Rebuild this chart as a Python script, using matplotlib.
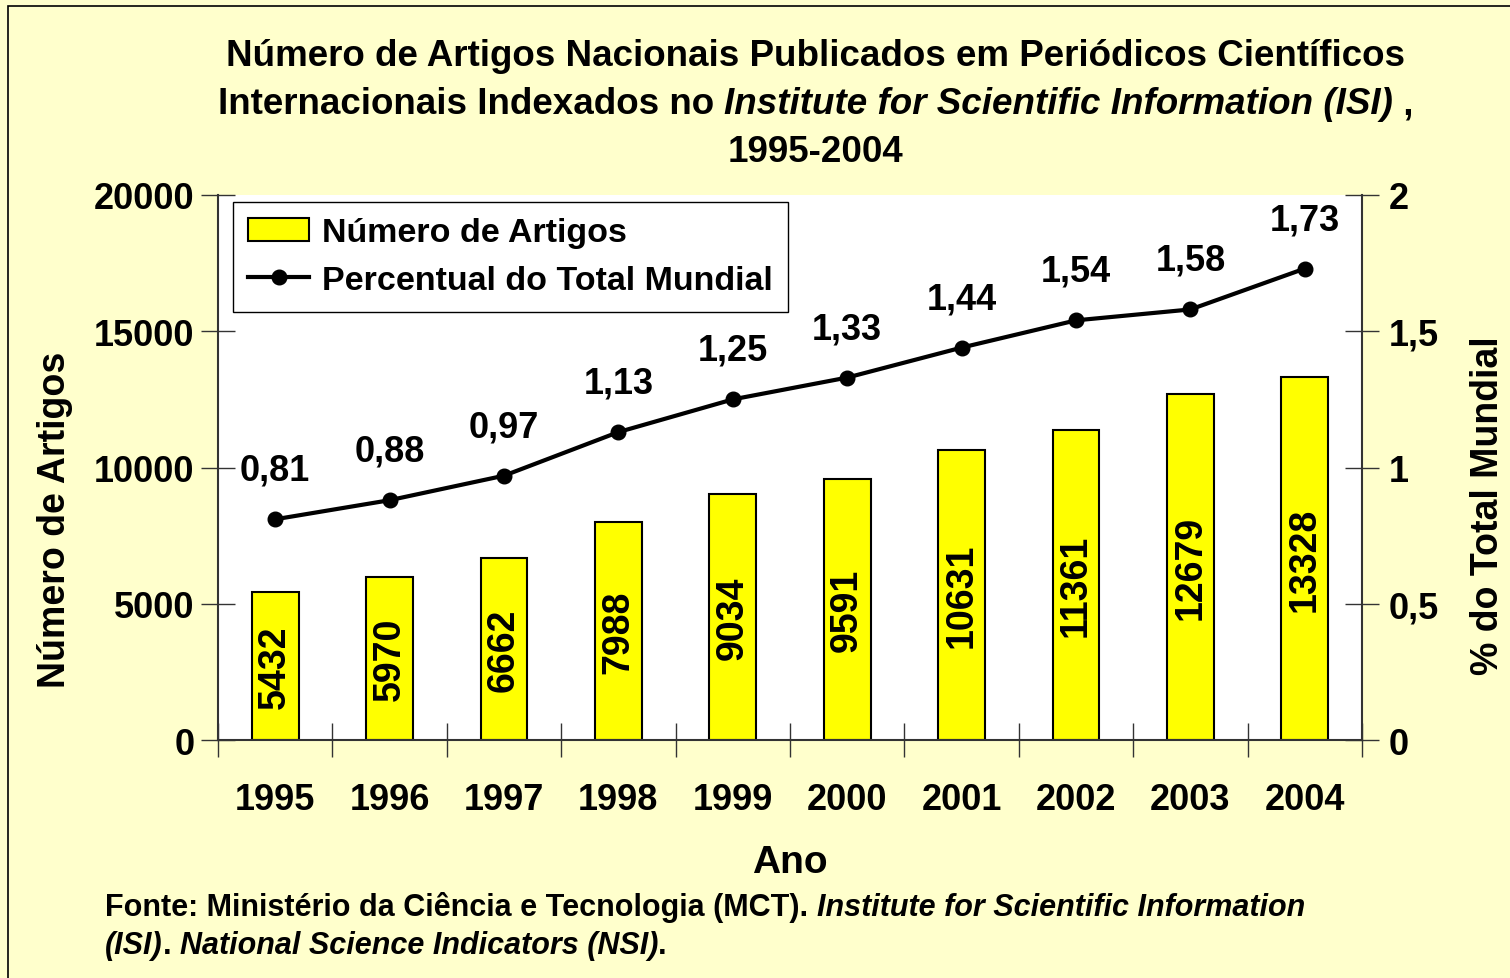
import matplotlib.pyplot as plt
from matplotlib.patches import Rectangle
from matplotlib.ticker import FixedLocator, FuncFormatter

plt.rcParams['font.family'] = ['Liberation Sans', 'DejaVu Sans']
plt.rcParams['font.weight'] = 'bold'

anos = ['1995', '1996', '1997', '1998', '1999', '2000', '2001', '2002', '2003', '2004']
artigos = [5432, 5970, 6662, 7988, 9034, 9591, 10631, 11361, 12679, 13328]
percentual = [0.81, 0.88, 0.97, 1.13, 1.25, 1.33, 1.44, 1.54, 1.58, 1.73]

bg = '#FFFFCC'
fig = plt.figure(figsize=(15.1, 9.79), dpi=100, facecolor=bg)
fig.patches.append(Rectangle((0.005, -0.01), 1.2, 1.003, transform=fig.transFigure,
                             fill=False, edgecolor='black', lw=1.2))

ax = fig.add_axes([0.1444, 0.2431, 0.7576, 0.5567])
ax.set_facecolor('white')
x = range(len(anos))
ax.bar(x, artigos, width=0.41, color='#FFFF00', edgecolor='black', lw=1.5,
       label='Número de Artigos', zorder=2)
for i, v in enumerate(artigos):
    ax.text(i, v / 2, str(v), rotation=90, ha='center', va='center',
            fontsize=27, fontweight='bold', zorder=3)
ax.set_xlim(-0.5, len(anos) - 0.5)
ax.set_ylim(0, 20000)
ax.set_yticks([0, 5000, 10000, 15000, 20000])
ax.xaxis.set_major_locator(FixedLocator([i + 0.5 for i in range(-1, len(anos))]))
ax.set_xticklabels([])
ax.xaxis.set_minor_locator(FixedLocator(list(x)))
ax.set_xticklabels(anos, minor=True)
ax.tick_params(axis='x', which='minor', length=0, pad=30, labelsize=26)
ax.tick_params(axis='x', which='major', direction='inout', length=24, width=1, color='#333333')
ax.tick_params(axis='y', direction='inout', length=24, width=1, color='#333333',
               labelsize=26, pad=5)
for s in ['top', 'right']:
    ax.spines[s].set_visible(False)
for s in ['left', 'bottom']:
    ax.spines[s].set_color('#333333')
    ax.spines[s].set_linewidth(1.5)
ax.set_ylabel('Número de Artigos', fontsize=27, fontweight='bold')
ax.yaxis.set_label_coords(-0.127, 0.405)
ax.set_xlabel('Ano', fontsize=28, fontweight='bold', labelpad=20)

ax2 = ax.twinx()
ax2.plot(list(x), percentual, color='black', lw=3, marker='o', markersize=10.5,
         label='Percentual do Total Mundial', zorder=4)
for i, v in enumerate(percentual):
    ax2.text(i, v + 0.18, f'{v:.2f}'.replace('.', ','), ha='center', va='center',
             fontsize=26, fontweight='bold')
ax2.set_ylim(0, 2)
ax2.set_yticks([0, 0.5, 1, 1.5, 2])
ax2.yaxis.set_major_formatter(FuncFormatter(lambda v, p: f'{v:g}'.replace('.', ',')))
ax2.tick_params(axis='y', direction='inout', length=24, width=1, color='#333333',
                labelsize=26, pad=7)
for s in ['top', 'left', 'bottom']:
    ax2.spines[s].set_visible(False)
ax2.spines['right'].set_color('#333333')
ax2.spines['right'].set_linewidth(1.5)
ax2.set_ylabel('% do Total Mundial', fontsize=27, fontweight='bold')
ax2.yaxis.set_label_coords(1.094, 0.431)

h1, l1 = ax.get_legend_handles_labels()
h2, l2 = ax2.get_legend_handles_labels()
leg = ax2.legend(h1 + h2, l1 + l2, loc='upper left', bbox_to_anchor=(0.013, 0.987),
                 borderaxespad=0, fontsize=24.5, frameon=True, fancybox=False,
                 framealpha=1, edgecolor='black', handlelength=1.8, handletextpad=0.38,
                 borderpad=0.45, labelspacing=0.5)
leg.get_frame().set_linewidth(1.0)

fig.text(0.540, 1 - 56 / 979, 'Número de Artigos Nacionais Publicados em Periódicos Científicos',
         ha='center', va='center', fontsize=26.5, fontweight='bold')
fig.text(0.540, 1 - 153 / 979, '1995-2004', ha='center', va='center',
         fontsize=26.5, fontweight='bold')

fig.canvas.draw()
r = fig.canvas.get_renderer()


def run_text(parts, xc, y, size, center=True):
    objs = []
    for s, st in parts:
        objs.append(fig.text(0, y, s, ha='left', va='center', fontsize=size,
                             fontweight='bold', fontstyle=st))
    widths = [o.get_window_extent(r).width for o in objs]
    total = sum(widths)
    W = fig.bbox.width
    x0 = xc * W - total / 2 if center else xc * W
    for o, w in zip(objs, widths):
        o.set_x(x0 / W)
        x0 += w


run_text([('Internacionais Indexados no ', 'normal'),
          ('Institute for Scientific Information (ISI)', 'italic'),
          (' ,', 'normal')], 0.540, 1 - 105 / 979, 26.5)
run_text([('Fonte: Ministério da Ciência e Tecnologia (MCT). ', 'normal'),
          ('Institute for Scientific Information', 'italic')], 105 / 1510, 1 - 908 / 979, 22, center=False)
run_text([('(ISI)', 'italic'), ('. ', 'normal'),
          ('National Science Indicators (NSI)', 'italic'), ('.', 'normal')],
         105 / 1510, 1 - 946 / 979, 22, center=False)

fig.savefig('out.png', dpi=100, facecolor=bg)
